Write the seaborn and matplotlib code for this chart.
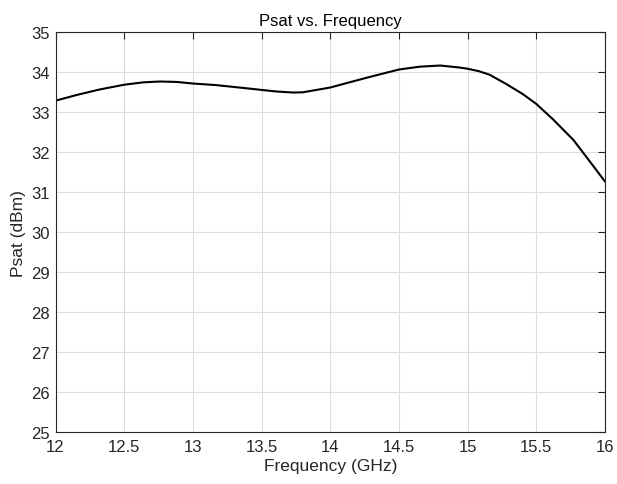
import numpy as np
import pandas as pd
import seaborn as sns
import matplotlib.pyplot as plt

freq = [12.0, 12.15, 12.32, 12.5, 12.64, 12.76, 12.88, 13.0, 13.17, 13.42, 13.5,
        13.61, 13.73, 13.8, 13.9, 14.0, 14.14, 14.26, 14.5, 14.65, 14.8, 14.94,
        15.0, 15.08, 15.16, 15.28, 15.4, 15.5, 15.62, 15.77, 15.89, 16.0]
psat = [33.29, 33.43, 33.57, 33.69, 33.75, 33.77, 33.76, 33.72, 33.68, 33.59, 33.56,
        33.52, 33.495, 33.50, 33.56, 33.62, 33.75, 33.86, 34.07, 34.14, 34.17, 34.12,
        34.09, 34.03, 33.94, 33.71, 33.46, 33.21, 32.83, 32.31, 31.77, 31.27]
xticks = [12, 12.5, 13, 13.5, 14, 14.5, 15, 15.5, 16]
yticks = list(range(25, 36))

sns.set_style("whitegrid")
plt.rcParams['font.family'] = ['Liberation Sans', 'DejaVu Sans']

data = pd.DataFrame({'freq': freq, 'psat': psat})

fig = plt.figure(figsize=(6.17, 4.85), dpi=100)
ax = fig.add_axes([0.090, 0.1066, 0.8905, 0.8247])
sns.lineplot(data=data, x='freq', y='psat', color='black', linewidth=1.5, ax=ax)

ax.set_xlim(12, 16)
ax.set_ylim(25, 35)
ax.set_xticks(xticks)
ax.set_xticklabels([f"{t:g}" for t in xticks])
ax.set_yticks(yticks)
ax.grid(True, color='#dcdcdc', linewidth=0.8)
for s in ax.spines.values():
    s.set_color('#262626')
    s.set_linewidth(0.8)
ax.tick_params(direction='in', length=5, width=0.8, colors='#262626',
               labelsize=12, top=True, right=True, labelcolor='#262626')
ax.tick_params(axis='x', pad=5)
ax.tick_params(axis='y', pad=4)
ax.set_title('Psat vs. Frequency', fontsize=12, color='#000000', pad=5)
ax.set_xlabel('Frequency (GHz)', fontsize=12.5, color='#262626', labelpad=3)
ax.set_ylabel('Psat (dBm)', fontsize=12.5, color='#262626', labelpad=4)

fig.savefig('out.png', dpi=100)
